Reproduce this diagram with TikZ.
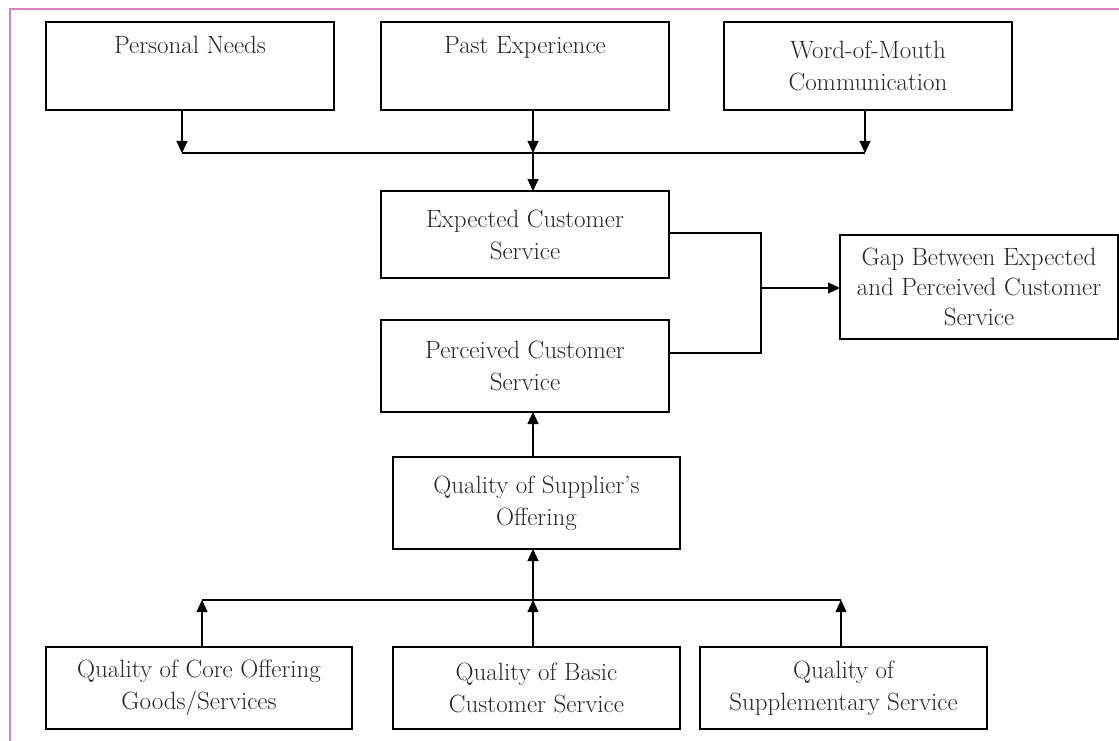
\documentclass[tikz,border=0pt]{standalone}
\usetikzlibrary{arrows.meta}
\definecolor{framepink}{RGB}{221,130,190}
\begin{document}
\begin{tikzpicture}[x=1pt,y=-1pt,
  box/.style={draw,line width=1.1pt,inner sep=0pt,outer sep=0pt,align=center,
    font=\fontsize{25}{32}\selectfont,minimum width=288pt,text=black!85},
  arr/.style={line width=1.1pt,-{Triangle[length=12pt,width=11pt]}},
  ln/.style={line width=1.1pt}]
\useasboundingbox (0,0) rectangle (1119,741);
\draw[framepink,line width=1.2pt] (1119,9) -- (10,9) -- (10,741);
% top row
\node[box,minimum height=88pt] (pn) at (190,66) {Personal Needs\\\strut};
\node[box,minimum height=88pt] (pe) at (525,66) {Past Experience\\\strut};
\node[box,minimum height=88pt] (wm) at (868,66) {Word-of-Mouth\\Communication};
% middle
\node[box,minimum height=87pt] (ec) at (525,234.5) {Expected Customer\\Service};
\node[box,minimum height=92pt] (pc) at (525,366) {Perceived Customer\\Service};
\node[box,minimum width=278pt,minimum height=104pt,font=\fontsize{25}{30}\selectfont] (gap) at (979,287) {Gap Between Expected\\and Perceived Customer\\Service};
\node[box,minimum width=287pt,minimum height=92pt] (sq) at (536.5,503) {Quality of Supplier's\\Offering};
% bottom row
\node[box,minimum width=306pt,minimum height=82pt] (core) at (199,688) {Quality of Core Offering\\Goods/Services};
\node[box,minimum width=287pt,minimum height=82pt] (basic) at (536.5,688) {Quality of Basic\\Customer Service};
\node[box,minimum width=287pt,minimum height=82pt] (supp) at (843.5,688) {Quality of\\Supplementary Service};
% top bus
\coordinate (t1) at (182,153);
\coordinate (t2) at (533,153);
\coordinate (t3) at (865,153);
\draw[arr] (pn.south -| t1) -- (t1);
\draw[arr] (pe.south -| t2) -- (t2);
\draw[arr] (wm.south -| t3) -- (t3);
\draw[ln] (t1) -- (t3);
\draw[arr] (t2) -- (ec.north -| t2);
% gap connector
\coordinate (g1) at (761,233);
\coordinate (g2) at (761,353);
\coordinate (g3) at (761,288);
\draw[ln] (ec.east |- g1) -- (g1) -- (g2) -- (pc.east |- g2);
\draw[arr] (g3) -- (gap.west |- g3);
% supplier to perceived
\draw[arr] (sq.north -| t2) -- (pc.south -| t2);
% bottom bus
\coordinate (b1) at (202,600);
\coordinate (b2) at (533,600);
\coordinate (b3) at (841,600);
\draw[ln] (b1) -- (b3);
\draw[arr] (core.north -| b1) -- (b1);
\draw[arr] (basic.north -| b2) -- (b2);
\draw[arr] (supp.north -| b3) -- (b3);
\draw[arr] (b2) -- (sq.south -| b2);
\end{tikzpicture}
\end{document}
